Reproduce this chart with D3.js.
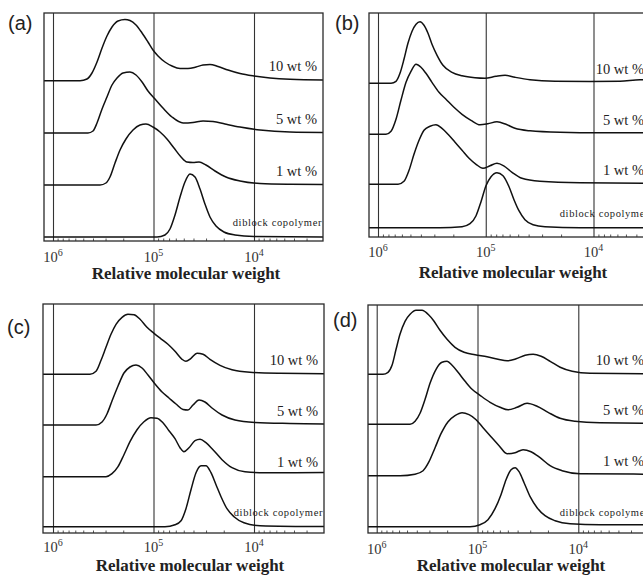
<!DOCTYPE html>
<html>
<head>
<meta charset="utf-8">
<script src="https://cdn.jsdelivr.net/npm/d3@7"></script>
<style>
  html, body { margin: 0; padding: 0; background: #fff; overflow: hidden; }
  svg { display: block; }
</style>
</head>
<body>
<svg id="chart" width="643" height="575"></svg>
<script>
// ---- labels ----
const panelLabels = ["(a)", "(b)", "(c)", "(d)"];
const seriesNames = ["10 wt %", "5 wt %", "1 wt %", "diblock copolymer"];
const majorTicks = [1e6, 1e5, 1e4];
const axisTitle = "Relative molecular weight";

// ---- stacking offsets (intensity units): 10 wt %, 5 wt %, 1 wt %, diblock ----
const offsetsA = [156.3, 104, 52, 0];
const offsetsB = [144.4, 93.4, 43.4, 0];
const offsetsC = [152.4, 101.7, 50, 0];
const offsetsD = [152.4, 102.4, 51, 0];

// ---- GPC traces: [log10 M, detector intensity] ----
// panel (a)
const a10 = [[6.1,0],[5.731,0],[5.662,1.7],[5.612,7.7],[5.562,18.7],[5.512,32.7],[5.463,44.7],[5.413,53.7],[5.353,59.7],[5.284,61.2],[5.234,60.2],[5.174,55.7],[5.114,47.7],[5.055,38.7],[5.005,30.7],[4.955,24.7],[4.886,18.7],[4.816,14.7],[4.736,12.2],[4.657,12.2],[4.577,13.7],[4.507,15.7],[4.438,16.2],[4.358,14.2],[4.259,10.7],[4.139,7.2],[4.0,4.7],[3.841,2.7],[3.642,1.4],[3.2,0.5]];
const a5 = [[6.1,0],[5.652,0],[5.602,2],[5.562,10],[5.512,24],[5.463,36],[5.413,48],[5.363,55],[5.303,60],[5.234,61],[5.174,58],[5.114,51],[5.055,42],[4.985,34],[4.906,25],[4.816,16],[4.706,10],[4.607,10.5],[4.507,12],[4.408,11.5],[4.289,9],[4.139,6],[3.94,3],[3.642,1],[3.2,0.5]];
const a1 = [[6.1,0],[5.532,0],[5.473,2],[5.433,8],[5.383,22],[5.333,35],[5.274,46],[5.204,55],[5.134,60],[5.075,61],[5.005,58],[4.935,53],[4.866,46],[4.796,37],[4.726,28],[4.667,23],[4.607,22.5],[4.547,23],[4.478,20],[4.388,14],[4.279,8],[4.139,4],[3.94,1.5],[3.642,0.8],[3.2,0.5]];
const aDiblock = [[6.1,0],[4.965,0],[4.886,2],[4.836,8],[4.786,22],[4.736,40],[4.687,55],[4.637,63],[4.587,60],[4.537,48],[4.488,33],[4.438,20],[4.378,11],[4.299,5],[4.189,2],[4.0,0.5],[3.2,0]];

// panel (b)
const b10 = [[6.1,0],[5.879,0],[5.833,2],[5.796,10],[5.759,24],[5.722,40],[5.684,52],[5.647,59],[5.61,61.5],[5.573,58],[5.536,50],[5.499,39],[5.452,28],[5.397,18],[5.313,11],[5.22,7.5],[5.1,5.5],[5.007,5],[4.905,7],[4.821,8],[4.729,6],[4.589,3.5],[4.357,2],[4.032,1.8],[3.754,2],[3.568,3.5],[3.3,3]];
const b5 = [[6.1,0],[5.926,0],[5.879,3],[5.833,15],[5.787,34],[5.74,52],[5.694,63],[5.647,70],[5.601,67],[5.555,61],[5.499,52],[5.434,42],[5.369,35],[5.295,27],[5.22,20],[5.137,14],[5.053,9.5],[4.981,10.5],[4.896,12.5],[4.812,10],[4.729,6],[4.589,3.5],[4.311,2],[3.94,1.5],[3.3,1.5]];
const b1 = [[6.1,0],[5.814,0],[5.759,3],[5.712,14],[5.666,30],[5.619,44],[5.573,54],[5.517,58],[5.462,59.5],[5.406,56],[5.35,50],[5.285,42],[5.22,34],[5.155,26],[5.09,20],[5.026,16],[4.961,18.5],[4.896,21],[4.833,18.5],[4.756,12],[4.664,6],[4.497,3],[4.125,1.5],[3.3,1]];
const bDiblock = [[6.1,0],[5.425,0],[5.22,1],[5.146,4],[5.09,12],[5.044,26],[4.998,42],[4.951,51],[4.896,55],[4.84,52],[4.784,41],[4.738,28],[4.692,17],[4.636,8],[4.561,3],[4.45,1],[4.125,0],[3.3,0]];

// panel (c)
const c10 = [[6.1,0],[5.632,0],[5.572,3],[5.522,14],[5.473,27],[5.423,40],[5.373,50],[5.313,57],[5.254,60],[5.194,59.5],[5.134,55],[5.065,47],[4.995,41],[4.926,35.5],[4.856,30],[4.786,23],[4.716,15],[4.677,13],[4.627,16],[4.567,21],[4.507,20],[4.438,15],[4.338,9],[4.219,4.5],[4.04,2],[3.741,1],[3.2,0.5]];
const c5 = [[6.1,0],[5.572,0],[5.512,3],[5.463,11],[5.413,24],[5.353,39],[5.294,52],[5.234,58],[5.174,60],[5.114,57],[5.055,50],[4.985,41],[4.915,33],[4.846,27],[4.776,21],[4.706,15.5],[4.657,15],[4.607,20],[4.547,25],[4.488,23],[4.418,17],[4.318,10],[4.189,5],[3.99,2.5],[3.642,1.5],[3.2,1]];
const c1 = [[6.1,0],[5.473,0],[5.413,3],[5.353,10],[5.294,22],[5.234,35],[5.164,47],[5.095,55],[5.025,59],[4.965,58.5],[4.906,54],[4.846,46],[4.786,38],[4.736,29],[4.697,25],[4.647,29],[4.587,36],[4.537,37.5],[4.478,34],[4.408,27],[4.318,17],[4.219,9],[4.09,5],[3.891,4],[3.592,4],[3.2,4.3]];
const cDiblock = [[6.1,0],[4.886,0],[4.786,2],[4.726,6],[4.677,18],[4.627,37],[4.577,54],[4.527,61],[4.478,61],[4.428,54],[4.378,42],[4.328,30],[4.269,18],[4.199,10],[4.1,4],[3.94,1],[3.2,0]];

// panel (d)
const d10 = [[6.1,0],[5.938,0],[5.888,2],[5.848,9],[5.808,25],[5.769,40],[5.719,53],[5.669,60],[5.61,64],[5.55,64],[5.49,60],[5.431,53],[5.372,44],[5.302,35],[5.223,27],[5.133,22],[5.024,19.5],[4.905,17.5],[4.796,15],[4.706,13.5],[4.617,15.5],[4.527,19],[4.448,20],[4.369,18],[4.279,13],[4.18,7],[4.061,3],[3.883,1],[3.2,0.5]];
const d5 = [[6.1,0],[5.669,0],[5.619,3],[5.57,11],[5.52,25],[5.471,41],[5.411,55],[5.352,62],[5.302,63],[5.252,59],[5.193,52],[5.123,43],[5.054,35],[4.975,29],[4.875,22],[4.776,17],[4.697,14.5],[4.607,17],[4.508,21],[4.409,18],[4.3,12],[4.181,6],[4.032,3],[3.784,1.5],[3.2,1]];
const d1 = [[6.1,0],[5.768,0],[5.62,1.5],[5.54,5],[5.481,14],[5.421,28],[5.362,42],[5.292,54],[5.223,60],[5.153,63],[5.084,61],[5.014,56],[4.945,48],[4.866,39],[4.786,30],[4.707,22],[4.627,23],[4.548,26],[4.469,24],[4.379,18],[4.28,10],[4.161,5],[3.983,2],[3.2,1.5]];
const dDiblock = [[6.1,0],[5.074,0],[4.975,2],[4.896,7],[4.826,18],[4.767,32],[4.717,47],[4.667,57],[4.627,59],[4.588,55],[4.538,44],[4.478,30],[4.409,19],[4.33,11],[4.23,6],[4.081,3],[3.784,2],[3.2,2]];

const panelTraces = [
  [a10, a5, a1, aDiblock],
  [b10, b5, b1, bDiblock],
  [c10, c5, c1, cDiblock],
  [d10, d5, d1, dDiblock]
];
const panelOffsets = [offsetsA, offsetsB, offsetsC, offsetsD];

// ---- page geometry of the four panels ----
const layout = [
  { left: 44,  right: 323, top: 13,  bottom: 241, base: 237,   x6: 53,    x4: 254,   tickY: 262, titleX: 186, titleY: 279, labelX: 8,   labelY: 30 },
  { left: 369, right: 650, top: 13,  bottom: 237, base: 227.7, x6: 378,   x4: 593.5, tickY: 257, titleX: 513, titleY: 278, labelX: 335, labelY: 30 },
  { left: 43,  right: 324, top: 304, bottom: 533, base: 526.7, x6: 53,    x4: 254,   tickY: 552, titleX: 190, titleY: 571, labelX: 7,   labelY: 334 },
  { left: 368, right: 650, top: 305, bottom: 533, base: 526.7, x6: 376.7, x4: 578.3, tickY: 554, titleX: 511, titleY: 571, labelX: 333, labelY: 327 }
];

const svg = d3.select("#chart");
const serif = "'Liberation Serif', 'Times New Roman', serif";
const sans = "'Liberation Sans', Arial, sans-serif";

layout.forEach((L, pi) => {
  const g = svg.append("g");
  const x = d3.scaleLog().domain([1e6, 1e4]).range([L.x6, L.x4]);
  const y = d3.scaleLinear().domain([0, 100]).range([L.base, L.base - 100]);
  const lo = x.invert(L.right), hi = x.invert(L.left);

  const clipId = "clip" + pi;
  g.append("clipPath").attr("id", clipId)
    .append("rect")
    .attr("x", L.left).attr("y", L.top)
    .attr("width", L.right - L.left).attr("height", L.bottom - L.top);

  // decade grid lines
  g.append("g")
    .attr("transform", `translate(0,${L.bottom})`)
    .call(d3.axisBottom(x).tickValues(majorTicks).tickSize(-(L.bottom - L.top)).tickFormat(""))
    .call(a => a.select(".domain").remove())
    .call(a => a.selectAll("line").attr("stroke", "#333").attr("stroke-width", 1.1));

  // minor ticks along the bottom edge
  const minor = [];
  for (let e = 3; e <= 6; e++) {
    for (let m = 2; m <= 9; m++) {
      const v = m * Math.pow(10, e);
      if (v > lo && v < hi) minor.push(v);
    }
  }
  g.append("g")
    .attr("transform", `translate(0,${L.bottom})`)
    .call(d3.axisTop(x).tickValues(minor).tickSize(2.5).tickFormat(""))
    .call(a => a.select(".domain").remove())
    .call(a => a.selectAll("line").attr("stroke", "#555").attr("stroke-width", 1));

  // traces
  const line = d3.line()
    .x(d => x(Math.pow(10, d[0])))
    .y(d => d[1])
    .curve(d3.curveMonotoneX);
  const traces = panelTraces[pi];
  const offs = panelOffsets[pi];
  const tg = g.append("g").attr("clip-path", `url(#${clipId})`);
  traces.forEach((tr, si) => {
    const pts = tr.map(d => [d[0], y(d[1] + offs[si])]);
    tg.append("path")
      .attr("d", line(pts))
      .attr("fill", "none")
      .attr("stroke", "#111")
      .attr("stroke-width", 1.5)
      .attr("stroke-linejoin", "round");
  });

  // frame
  g.append("rect")
    .attr("x", L.left).attr("y", L.top)
    .attr("width", L.right - L.left).attr("height", L.bottom - L.top)
    .attr("fill", "none").attr("stroke", "#2a2a2a").attr("stroke-width", 1.3);

  // series labels
  seriesNames.forEach((name, si) => {
    const isDiblock = si === 3;
    g.append("text")
      .attr("x", isDiblock ? L.right - 1 : L.right - 6)
      .attr("y", y(offs[si]) - (isDiblock ? 11 : 9.5))
      .attr("text-anchor", "end")
      .attr("font-family", serif)
      .attr("font-size", isDiblock ? 10.5 : 14.5)
      .attr("letter-spacing", isDiblock ? 0.6 : 0)
      .attr("fill", "#222")
      .text(name);
  });

  // decade tick labels: 10 with superscript exponent
  majorTicks.forEach(v => {
    const t = g.append("text")
      .attr("x", x(v))
      .attr("y", L.tickY)
      .attr("text-anchor", "middle")
      .attr("font-family", serif)
      .attr("font-size", 14.5)
      .attr("fill", "#333");
    t.append("tspan").text("10");
    t.append("tspan").attr("dy", -6).attr("font-size", 10).text(String(Math.round(Math.log10(v))));
  });

  // axis title
  g.append("text")
    .attr("x", L.titleX)
    .attr("y", L.titleY)
    .attr("text-anchor", "middle")
    .attr("font-family", serif)
    .attr("font-weight", "bold")
    .attr("font-size", 17)
    .attr("fill", "#222")
    .text(axisTitle);

  // panel label
  g.append("text")
    .attr("x", L.labelX)
    .attr("y", L.labelY)
    .attr("font-family", sans)
    .attr("font-size", 20)
    .attr("fill", "#222")
    .text(panelLabels[pi]);
});
</script>
</body>
</html>
